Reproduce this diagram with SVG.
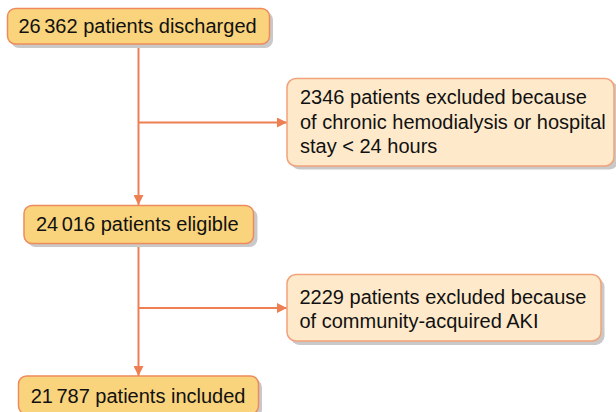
<svg xmlns="http://www.w3.org/2000/svg" width="616" height="412" viewBox="0 0 616 412">
  <style>
    .main { fill: #F9D47C; stroke: #EE8A5C; stroke-width: 1.5; }
    .excl { fill: #FEEACB; stroke: #F2A27A; stroke-width: 1.5; }
    .shadow { fill: #C9C9C9; }
    .label { font-family: "Liberation Sans", Arial, sans-serif; font-size: 20px; fill: #111111; }
    .conn { stroke: #EE7F52; stroke-width: 2; fill: none; }
  </style>
  <defs>
    <marker id="arrow" viewBox="0 0 10 10" refX="10" refY="5" markerWidth="10" markerHeight="10" markerUnits="userSpaceOnUse" orient="auto">
      <path d="M0,0 L10,5 L0,10 Z" fill="#EE7F52"/>
    </marker>
  </defs>
  <rect width="616" height="412" fill="#FFFFFF"/>

  <g id="connectors">
    <line class="conn" x1="138.5" y1="44" x2="138.5" y2="205" marker-end="url(#arrow)"/>
    <line class="conn" x1="138.5" y1="122.5" x2="287" y2="122.5" marker-end="url(#arrow)"/>
    <line class="conn" x1="138.5" y1="243.5" x2="138.5" y2="376" marker-end="url(#arrow)"/>
    <line class="conn" x1="138.5" y1="308" x2="287" y2="308" marker-end="url(#arrow)"/>
  </g>

  <g id="discharged">
    <rect class="shadow" x="11" y="12" width="262" height="36" rx="8"/>
    <rect class="main" x="7.5" y="8.5" width="262" height="35.5" rx="8"/>
    <text class="label" x="18.5" y="32.7">26<tspan dx="3.5">362 patients discharged</tspan></text>
  </g>

  <g id="excluded-dialysis">
    <rect class="shadow" x="290.5" y="81.5" width="328" height="88" rx="9"/>
    <rect class="excl" x="287" y="78.5" width="327" height="87.5" rx="9"/>
    <text class="label" x="300" y="104.3">2346 patients excluded because</text>
    <text class="label" x="300" y="128.8">of chronic hemodialysis or hospital</text>
    <text class="label" x="300" y="153.3">stay &lt; 24 hours</text>
  </g>

  <g id="eligible">
    <rect class="shadow" x="27.5" y="209" width="230" height="38" rx="8"/>
    <rect class="main" x="24" y="205.5" width="229.5" height="38" rx="8"/>
    <text class="label" x="36" y="230.7">24<tspan dx="3.5">016 patients eligible</tspan></text>
  </g>

  <g id="excluded-aki">
    <rect class="shadow" x="290.5" y="278" width="314" height="67" rx="9"/>
    <rect class="excl" x="287" y="274.5" width="314" height="66.5" rx="9"/>
    <text class="label" x="299.5" y="303.5">2229 patients excluded because</text>
    <text class="label" x="299.5" y="327.5">of community-acquired AKI</text>
  </g>

  <g id="included">
    <rect class="shadow" x="22" y="379.5" width="240" height="38" rx="8"/>
    <rect class="main" x="18.5" y="376" width="240" height="38" rx="8"/>
    <text class="label" x="30.7" y="403">21<tspan dx="3.5">787 patients included</tspan></text>
  </g>
</svg>
